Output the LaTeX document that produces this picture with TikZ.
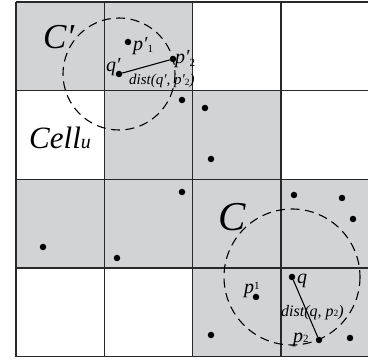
\documentclass[tikz,border=0pt]{standalone}
\usepackage{fontspec}
\setmainfont{Liberation Serif}
\definecolor{cellgray}{RGB}{209,211,212}
\definecolor{gridline}{RGB}{40,40,40}
\newcommand{\smalldig}[1]{{\upshape\fontsize{11}{11}\selectfont #1}}
\newcommand{\tinydig}[1]{{\upshape\fontsize{9.5}{9.5}\selectfont #1}}
\begin{document}
\begin{tikzpicture}[x=1pt,y=-1pt,
  dot/.style={circle,fill=black,inner sep=0pt,minimum size=6.5pt},
  gridstyle/.style={draw=gridline,line width=1.6pt},
  circstyle/.style={draw=black,line width=1.1pt,dash pattern=on 9pt off 5.5pt},
  seg/.style={draw=black,line width=1.1pt},
  lbl/.style={inner sep=0pt,anchor=base west,font=\itshape\fontsize{20}{20}\selectfont},
  big/.style={inner sep=0pt,anchor=base west,font=\itshape\fontsize{35}{35}\selectfont},
  small/.style={inner sep=0pt,anchor=base west,font=\itshape\fontsize{15}{15}\selectfont}]
\useasboundingbox (0,0) rectangle (368,363);
% gray cells
\foreach \c/\r in {0/0,1/0,1/1,2/1,0/2,1/2,2/2,3/2,2/3,3/3}
  \fill[cellgray] ({16+88.33*\c},{2+88.67*\r}) rectangle +(88.33,88.67);
% grid
\foreach \i in {0,...,4} {
  \draw[gridstyle] ({16+88.33*\i},2) -- ({16+88.33*\i},356.7);
  \draw[gridstyle] (16,{2+88.67*\i}) -- (369.5,{2+88.67*\i});
}
% dots
\node[dot] (pp1) at (128,42) {};
\node[dot] (pp2) at (173,59) {};
\node[dot] (qp) at (119,74) {};
\node[dot] (d1) at (182,100) {};
\node[dot] (d2) at (205,108) {};
\node[dot] (d3) at (211,159) {};
\node[dot] (d4) at (182,192) {};
\node[dot] (d5) at (43,247) {};
\node[dot] (d6) at (117,258) {};
\node[dot] (d7) at (294,195) {};
\node[dot] (d8) at (342,198) {};
\node[dot] (d9) at (353,219) {};
\node[dot] (q) at (292,277) {};
\node[dot] (p1) at (256,297) {};
\node[dot] (d10) at (211,335) {};
\node[dot] (p2) at (319,340) {};
\node[dot] (d11) at (350,338) {};
% circles
\draw[circstyle] (qp.center) circle (56);
\draw[circstyle] (q.center) circle (68);
% segments
\draw[seg] (qp) -- (pp2);
\draw[seg] (q) -- (p2);
% labels
\node[big] (lCp) at (43,49) {C′};
\node[big,font=\itshape\fontsize{41}{41}\selectfont] (lC) at (218,231) {C};
\node[inner sep=0pt,anchor=base west,font=\itshape\fontsize{31}{31}\selectfont] (lcell) at (29,149) {Cell{\fontsize{20}{20}\selectfont u}};
\node[lbl] (lpp1) at (133,51) {p′\raisebox{-2pt}{\smalldig{1}}};
\node[lbl] (lpp2) at (175,64) {p′\raisebox{-3pt}{\smalldig{2}}};
\node[lbl] (lqp) at (106,72) {q′};
\node[small] (ld1) at (129,85) {dist(q′, p′\raisebox{-1pt}{\tinydig{2}})};
\node[lbl] (lq) at (297,284) {q};
\node[small,font=\itshape\fontsize{16}{16}\selectfont] (ld2) at (281,317) {dist(q, p\tinydig{2})};
\node[lbl] (lp1) at (244,294) {p\raisebox{4pt}{\smalldig{1}}};
\node[lbl] (lp2) at (293,343) {p\smalldig{2}};
\end{tikzpicture}
\end{document}
